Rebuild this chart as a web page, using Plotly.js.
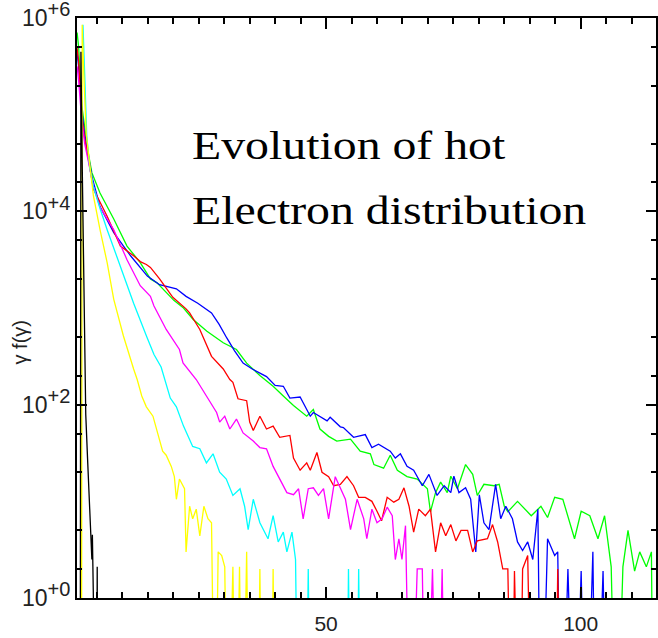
<!DOCTYPE html>
<html>
<head>
<meta charset="utf-8">
<script src="https://cdn.plot.ly/plotly-3.0.1.min.js"></script>
<style>
  html, body { margin: 0; padding: 0; background: #fff; }
  #chart { width: 658px; height: 638px; }
</style>
</head>
<body>
<div id="chart"></div>
<script>
// Hot electron spectra gamma*f(gamma) versus gamma, one curve per time step.
// A value of 0 is an empty bin.

const blackGamma = [1.7, 1.85, 2.1, 2.35, 2.5, 2.6, 2.8, 3.15, 3.55, 3.8, 4.0, 4.1, 4.3, 4.9, 5.05, 5.2];
const blackF = [0, 447000, 31600, 2510, 400, 141, 79, 28, 10, 5.6, 2.5, 4.5, 0, 0, 2.1, 0];

const yellowGamma = [1.95, 2.1, 2.5, 2.9, 3.4, 4.3, 5.6, 7.0, 8.3, 10.2, 12.2, 12.9,
  13.8, 14.7, 16.0, 17.3, 17.9, 18.6, 19.6, 20.2, 20.6, 21.2, 22.2, 22.5,
  23.2, 23.8, 24.5, 25.2, 26.0, 26.8, 27.5, 28.2, 28.8, 29.5, 30.1, 30.7,
  31.7, 32.3, 33.0, 33.6, 34.4, 35.0, 36.5, 37.0, 37.5, 39.2, 39.6, 40.0];
const yellowF = [0, 851000, 200000, 63000, 37000, 14500, 6460, 2950, 1230, 513, 234, 182,
  123, 95, 76, 44, 33, 30, 23, 18, 10.5, 17, 13.5, 3.0,
  8.9, 6.6, 8.3, 4.4, 8.9, 6.6, 6.0, 0, 3.0, 2.75, 2.1, 0,
  2.1, 0, 2.1, 0, 3.0, 0, 0, 2.0, 0, 0, 2.0, 0];

const cyanGamma = [2.25, 2.6, 3.0, 3.6, 4.3, 5.6, 7.0, 9.6, 12.2, 14.8, 16.2, 17.6,
  19.4, 20.6, 22.0, 23.8, 25.2, 26.5, 27.8, 29.1, 30.4, 31.7, 33.1, 34.0,
  34.7, 35.7, 37.0, 38.6, 39.6, 40.6, 41.6, 42.3, 43.3, 44.0, 44.6, 46.0,
  46.5, 47.0, 54.0, 54.4, 54.9, 56.0, 56.4, 56.9];
const cyanF = [851000, 200000, 60000, 28000, 18000, 10700, 6460, 2690, 1120, 501, 330, 245,
  117, 95, 60, 37, 35, 25, 31, 20, 17, 11.5, 13.5, 8.9,
  5.1, 10.5, 6.0, 4.1, 7.1, 3.8, 4.8, 3.0, 4.8, 2.5, 0, 0,
  2.0, 0, 0, 2.0, 0, 0, 2.0, 0];

const magentaGamma = [1.1, 1.4, 2.0, 2.6, 3.3, 4.3, 5.6, 8.3, 10.9, 13.5, 15.5, 16.2,
  18.6, 21.2, 21.9, 23.8, 24.5, 26.5, 28.5, 29.1, 30.1, 31.1, 32.4, 33.7,
  35.7, 37.0, 38.3, 39.6, 40.9, 42.3, 43.6, 44.6, 45.5, 46.5, 47.5, 48.5,
  49.5, 50.5, 51.8, 52.8, 53.8, 54.8, 56.1, 57.4, 58.0, 59.0, 60.0, 61.0,
  62.0, 63.0, 63.6, 64.3, 64.9, 65.6, 66.6, 67.9, 68.9, 69.6, 70.9, 71.9,
  72.8, 73.5];
const magentaF = [316000, 224000, 89000, 50000, 33000, 18000, 11000, 6460, 3160, 1700, 1320, 1050,
  600, 372, 270, 200, 182, 123, 83, 66, 76, 56, 71, 51,
  42, 36, 35, 23, 17, 12.3, 11.7, 13.5, 6.6, 13.5, 13.8, 11.5,
  13.5, 6.6, 18, 13.5, 10.5, 5.1, 10.5, 6.6, 4.1, 8.3, 6.0, 6.6,
  8.7, 7.1, 2.5, 4.1, 2.5, 5.6, 0, 2.0, 2.0, 0, 2.0, 0,
  2.0, 0];

const redGamma = [1.1, 1.4, 2.0, 2.6, 3.3, 4.3, 7.0, 9.6, 12.2, 13.5, 14.7, 15.5,
  17.3, 19.9, 22.5, 23.2, 25.2, 27.5, 29.8, 31.1, 31.7, 32.7, 34.4, 35.0,
  35.7, 37.0, 38.3, 39.6, 40.9, 42.9, 43.6, 44.9, 46.2, 46.9, 48.2, 49.2,
  50.5, 51.5, 52.8, 54.1, 55.4, 56.4, 57.7, 59.0, 60.0, 60.9, 62.0, 63.3,
  64.3, 65.3, 66.3, 67.2, 68.2, 69.5, 70.5, 71.5, 72.5, 73.5, 74.5, 75.5,
  76.5, 77.8, 78.8, 79.7, 81.7, 82.7, 83.7, 84.7, 85.7, 86.5, 87.0, 88.0,
  88.6, 89.6, 90.5, 95.0, 95.5, 96.2];
const redF = [490000, 355000, 100000, 56000, 35000, 17000, 8900, 4370, 3470, 3020, 2820, 2630,
  2000, 1290, 980, 890, 600, 316, 234, 182, 170, 115, 110, 66,
  54, 76, 56, 60, 46, 48, 28, 21, 25, 21, 32, 20,
  18, 14.5, 15, 18, 14.5, 11, 11, 10, 7.9, 6.3, 11, 9.8,
  10.5, 13.8, 8.9, 4.8, 8.3, 7.1, 8.3, 3.0, 6.0, 4.4, 5.75, 3.9,
  5.0, 5.0, 3.0, 3.9, 4.1, 5.75, 3.8, 2.0, 2.0, 0, 1.9, 0,
  2.0, 2.75, 0, 0, 2.0, 0];

const blueGamma = [1.1, 1.4, 2.0, 2.6, 3.3, 4.0, 5.6, 8.3, 11.6, 14.9, 17.3, 20.6,
  22.5, 24.8, 27.5, 29.0, 30.5, 32.0, 33.7, 35.5, 38.3, 40.0, 41.6, 42.9,
  44.9, 46.9, 47.5, 50.2, 50.8, 52.8, 53.4, 55.4, 57.7, 59.0, 60.3, 62.6,
  63.6, 64.6, 65.9, 67.2, 68.9, 70.2, 71.8, 73.2, 74.5, 75.1, 76.1, 77.4,
  78.4, 79.4, 80.1, 81.0, 82.0, 83.3, 84.3, 85.3, 86.6, 87.6, 88.6, 89.6,
  90.6, 91.6, 92.2, 93.5, 94.9, 95.5, 96.2, 97.5, 98.8, 100.1, 101.0, 102.4,
  103.0, 104.4, 105.3];
const blueF = [437000, 316000, 110000, 63000, 38000, 23000, 11200, 6030, 3470, 2140, 1740, 1580,
  1320, 1120, 890, 676, 490, 363, 269, 234, 195, 158, 155, 117,
  120, 76, 83, 68, 74, 59, 58, 46, 49, 36, 39, 33,
  28, 31, 23, 21, 14.5, 19, 11.5, 14.5, 12.3, 18.2, 12.3, 13.8,
  10.5, 3.0, 11.7, 6.0, 5.1, 15, 6.6, 8.9, 6.6, 3.8, 3.1, 3.8,
  2.5, 8.3, 0, 4.1, 2.75, 3.0, 0, 2.0, 0, 1.9, 0, 3.0,
  0, 1.9, 0];

const greenGamma = [1.1, 1.4, 2.0, 2.6, 3.3, 4.0, 5.6, 8.3, 10.9, 13.5, 15.5, 16.8,
  20.1, 22.0, 23.9, 26.6, 29.8, 32.4, 34.4, 37.0, 39.6, 41.6, 43.6, 46.2,
  47.5, 48.8, 50.5, 52.1, 54.8, 56.7, 58.7, 59.4, 61.3, 62.6, 64.0, 65.9,
  67.9, 69.9, 70.5, 71.5, 72.5, 73.8, 74.5, 75.8, 77.4, 78.8, 79.7, 81.0,
  83.0, 84.0, 85.0, 85.7, 87.6, 90.3, 92.2, 93.5, 94.9, 96.5, 98.8, 100.1,
  101.8, 103.4, 104.7, 106.0, 107.0, 108.3, 109.3, 110.6, 111.6, 112.9, 113.9, 114.3];
const greenF = [708000, 501000, 126000, 70800, 39800, 25100, 15500, 8320, 4370, 2950, 2000, 1820,
  1200, 1000, 760, 575, 437, 372, 269, 200, 155, 123, 98, 76,
  89, 56, 47, 42, 44, 33, 31, 24, 22, 30, 21, 18,
  17, 13.5, 7.8, 12.3, 15.8, 12.3, 18.2, 13.5, 24, 19, 11.5, 15,
  14.5, 15, 8.9, 7.8, 10, 7.1, 8.9, 6.8, 11, 10.5, 4.1, 7.9,
  7.1, 4.1, 7.1, 2.1, 0, 2.1, 5.0, 1.9, 3.0, 2.1, 3.0, 0];

// axis labels
const xTickVals = [50, 100];
const xTickText = ['50', '100'];
const yTickVals = [1, 100, 1e4, 1e6];
const yTickText = ['+0', '+2', '+4', '+6'].map(function (e) {
  return '10<sup><span style="font-size:20px">' + e + '</span></sup>';
});
const yTitle = 'γ f(γ)';
const headingLines = ['Evolution of hot', 'Electron distribution'];

// empty bins drop below the bottom of the log axis
const EMPTY_BIN = 0.01;
function onLog(vals) { return vals.map(function (v) { return v > 0 ? v : EMPTY_BIN; }); }

const series = [
  { x: greenGamma, y: greenF, color: '#00ff00' },
  { x: blueGamma, y: blueF, color: '#0000ff' },
  { x: redGamma, y: redF, color: '#ff0000' },
  { x: magentaGamma, y: magentaF, color: '#ff00ff' },
  { x: cyanGamma, y: cyanF, color: '#00ffff' },
  { x: yellowGamma, y: yellowF, color: '#ffff00' },
  { x: blackGamma, y: blackF, color: '#000000' }
];

const traces = series.map(function (s) {
  return {
    x: s.x, y: onLog(s.y), type: 'scatter', mode: 'lines',
    line: { color: s.color, width: 1.3 },
    hoverinfo: 'skip', showlegend: false
  };
});

const xMinor = [];
for (let g = 5; g <= 115; g += 5) { if (g % 50 !== 0) xMinor.push(g); }
const yMinor = [];
for (let p = 0; p < 6; p++) {
  [2, 5, 10].forEach(function (m) {
    const v = m * Math.pow(10, p);
    if (p % 2 === 1 && m === 10) { yMinor.push(v); }
    else if (m !== 10) { yMinor.push(v); }
  });
}

const xTickFont = { family: 'Liberation Sans, Arial, sans-serif', size: 21, color: '#222' };
const yTickFont = { family: 'Liberation Sans, Arial, sans-serif', size: 23, color: '#222' };

const layout = {
  width: 658, height: 638,
  margin: { l: 77, r: 2, t: 18, b: 40 },
  paper_bgcolor: '#ffffff', plot_bgcolor: '#ffffff',
  showlegend: false,
  xaxis: {
    range: [1.08, 114.8],
    tickmode: 'array', tickvals: xTickVals, ticktext: xTickText,
    ticks: 'inside', ticklen: 11, tickwidth: 2, tickcolor: '#000',
    showline: true, linewidth: 2, linecolor: '#000', mirror: 'ticks',
    showgrid: false, zeroline: false,
    tickfont: xTickFont, ticklabelstandoff: 6,
    minor: { tickmode: 'array', tickvals: xMinor, ticks: 'inside', ticklen: 6, tickwidth: 2, tickcolor: '#000', showgrid: false }
  },
  yaxis: {
    type: 'log', range: [0, 6],
    tickmode: 'array', tickvals: yTickVals, ticktext: yTickText,
    ticks: 'inside', ticklen: 10, tickwidth: 2, tickcolor: '#000',
    showline: true, linewidth: 2, linecolor: '#000', mirror: 'ticks',
    showgrid: false, zeroline: false,
    tickfont: yTickFont, ticklabeloverflow: 'allow',
    minor: { tickmode: 'array', tickvals: yMinor, ticks: 'inside', ticklen: 5, tickwidth: 2, tickcolor: '#000', showgrid: false }
  },
  annotations: [
    {
      text: yTitle, xref: 'paper', yref: 'paper', x: -0.099, y: 0.44,
      xanchor: 'center', yanchor: 'middle', textangle: -90, showarrow: false,
      font: { family: 'Liberation Sans, Arial, sans-serif', size: 20, color: '#222' }
    },
    {
      text: headingLines[0], xref: 'paper', yref: 'paper', x: 0.196, y: 0.78,
      xanchor: 'left', yanchor: 'middle', showarrow: false,
      font: { family: 'Liberation Serif, Times New Roman, serif', size: 40, color: '#000' }
    },
    {
      text: headingLines[1], xref: 'paper', yref: 'paper', x: 0.196, y: 0.668,
      xanchor: 'left', yanchor: 'middle', showarrow: false,
      font: { family: 'Liberation Serif, Times New Roman, serif', size: 40, color: '#000' }
    }
  ]
};

Plotly.newPlot('chart', traces, layout, { staticPlot: true, displayModeBar: false }).then(function () {
  // the heading is set in a wide Times face
  [1, 2].forEach(function (i) {
    const t = document.querySelector('.annotation[data-index="' + i + '"] text.annotation-text');
    if (t) {
      t.style.transformBox = 'fill-box';
      t.style.transformOrigin = '0 50%';
      t.style.transform = 'scaleX(1.195)';
    }
  });
});
</script>
</body>
</html>
